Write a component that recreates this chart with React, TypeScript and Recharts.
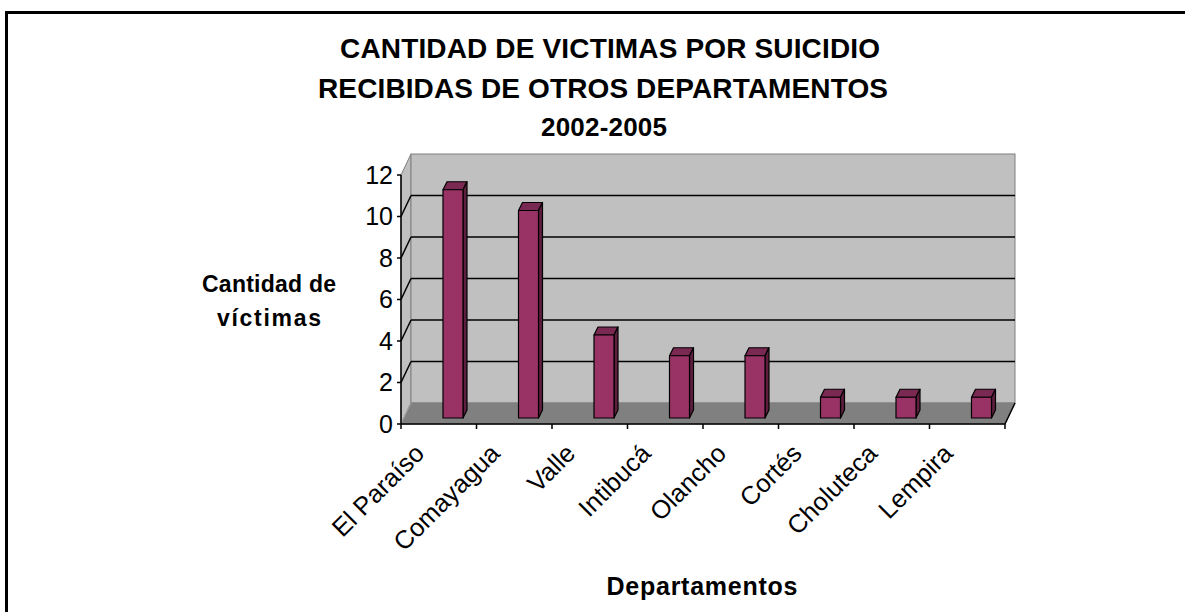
import { Bar, BarChart, CartesianGrid, ReferenceArea, XAxis, YAxis } from "recharts";

const categories = ["El Paraíso", "Comayagua", "Valle", "Intibucá", "Olancho", "Cortés", "Choluteca", "Lempira"];
const victims = [11, 10, 4, 3, 3, 1, 1, 1];
const yTicks = [0, 2, 4, 6, 8, 10, 12];
const gridValues = [2, 4, 6, 8, 10];
const titleLines = ["CANTIDAD DE VICTIMAS POR SUICIDIO", "RECIBIDAS DE OTROS DEPARTAMENTOS", "2002-2005"];
const yLabelLines = ["Cantidad de", "víctimas"];
const xLabel = "Departamentos";

const data = categories.map((name, i) => ({ name, value: victims[i] }));

const FONT = "'Liberation Sans', Arial, sans-serif";
// depth of the 3D box (back wall offset)
const DEPTH = { dx: 10, dy: -21 };
// columns sit a bit behind the front edge
const BAR_SHIFT = { dx: 14, dy: -6 };
const BOX = { dx: 4, dy: -8 };

function Walls(props: any) {
  const { x, y, width, height } = props;
  const { dx, dy } = DEPTH;
  const bottom = y + height;
  const right = x + width;
  return (
    <g>
      <polygon
        points={`${x},${y} ${x + dx},${y + dy} ${x + dx},${bottom + dy} ${x},${bottom}`}
        fill="#c0c0c0"
        stroke="#808080"
      />
      <rect x={x + dx} y={y + dy} width={width} height={height} fill="#c0c0c0" stroke="#808080" />
      <polygon
        points={`${x},${bottom} ${right},${bottom} ${right + dx},${bottom + dy} ${x + dx},${bottom + dy}`}
        fill="#808080"
        stroke="#808080"
      />
      <line x1={x} y1={bottom} x2={x + dx} y2={bottom + dy} stroke="#a0a0a0" />
      <line x1={right} y1={bottom} x2={right + dx} y2={bottom + dy} stroke="#000" strokeWidth={1.5} />
    </g>
  );
}

function GridLine(p: any) {
  const { dx, dy } = DEPTH;
  return (
    <g key={`g-${p.y1}`}>
      <line x1={p.x1 + dx} y1={p.y1 + dy} x2={p.x2 + dx} y2={p.y2 + dy} stroke="#000" strokeWidth={1.5} />
      <line x1={p.x1} y1={p.y1} x2={p.x1 + dx} y2={p.y1 + dy} stroke="#000" strokeWidth={1.5} />
    </g>
  );
}

function Column(props: any) {
  const { x, y, width, height } = props;
  if (!height) return null;
  const fx = x + BAR_SHIFT.dx;
  const fy = y + BAR_SHIFT.dy;
  const { dx, dy } = BOX;
  return (
    <g stroke="#000" strokeWidth={1.2} strokeLinejoin="round">
      <polygon
        points={`${fx},${fy} ${fx + dx},${fy + dy} ${fx + width + dx},${fy + dy} ${fx + width},${fy}`}
        fill="#7a2952"
      />
      <polygon
        points={`${fx + width},${fy} ${fx + width + dx},${fy + dy} ${fx + width + dx},${fy + height + dy} ${fx + width},${fy + height}`}
        fill="#5e1f3f"
      />
      <rect x={fx} y={fy} width={width} height={height} fill="#993366" />
    </g>
  );
}

function CategoryTick(props: any) {
  const { x, y, payload, index } = props;
  const off = payload.offset ?? 0;
  const ax = x - 13;
  const ay = y + 31;
  return (
    <g>
      <line x1={x - off} y1={y} x2={x - off} y2={y + 5} stroke="#000" strokeWidth={1.5} />
      {index === categories.length - 1 && (
        <line x1={x + off} y1={y} x2={x + off} y2={y + 5} stroke="#000" strokeWidth={1.5} />
      )}
      <text
        x={ax}
        y={ay}
        textAnchor="end"
        transform={`rotate(-45, ${ax}, ${ay})`}
        fontSize={25.5}
        fontFamily={FONT}
        fill="#000"
      >
        {payload.value}
      </text>
    </g>
  );
}

export default function App() {
  return (
    <div style={{ position: "absolute", left: 0, top: 0, width: 1185, height: 612, overflow: "hidden", background: "#fff" }}>
      <div
        style={{
          position: "absolute",
          left: 5,
          top: 11,
          width: 1220,
          height: 640,
          border: "3px solid #000",
          boxSizing: "border-box",
        }}
      />
      <div style={{ position: "absolute", left: 0, top: 0 }}>
        <BarChart width={1185} height={612} data={data} margin={{ top: 175, right: 180, bottom: 148, left: 341 }}>
          <ReferenceArea y1={0} y2={12} shape={Walls} zIndex={-200} ifOverflow="visible" />
          <CartesianGrid vertical={false} horizontalValues={gridValues} horizontal={GridLine} zIndex={-150} />
          <XAxis
            dataKey="name"
            height={40}
            interval={0}
            tickSize={0}
            tickMargin={0}
            tickLine={false}
            axisLine={{ stroke: "#000", strokeWidth: 1.5 }}
            tick={CategoryTick}
          />
          <YAxis
            width={60}
            domain={[0, 12]}
            ticks={yTicks}
            interval={0}
            tickSize={4}
            tickMargin={4}
            tickLine={{ stroke: "#000", strokeWidth: 1.5 }}
            axisLine={{ stroke: "#000", strokeWidth: 1.5 }}
            tick={{ fontSize: 25, fill: "#000", fontFamily: FONT }}
          />
          <Bar dataKey="value" barSize={20} fill="#993366" shape={Column} isAnimationActive={false} />
        </BarChart>
      </div>
      <svg width={1185} height={612} style={{ position: "absolute", left: 0, top: 0, pointerEvents: "none" }}>
        <g fontFamily={FONT} fontWeight="bold" fill="#000" textAnchor="middle">
          <text x={610} y={58} fontSize={28} textLength={540} lengthAdjust="spacing">
            {titleLines[0]}
          </text>
          <text x={603} y={98} fontSize={28} textLength={570} lengthAdjust="spacing">
            {titleLines[1]}
          </text>
          <text x={604} y={136} fontSize={26} textLength={126} lengthAdjust="spacing">
            {titleLines[2]}
          </text>
          <text x={269} y={292} fontSize={23} textLength={134} lengthAdjust="spacing">
            {yLabelLines[0]}
          </text>
          <text x={269} y={326} fontSize={23} textLength={104} lengthAdjust="spacing">
            {yLabelLines[1]}
          </text>
          <text x={702} y={595} fontSize={25} textLength={191} lengthAdjust="spacing">
            {xLabel}
          </text>
        </g>
      </svg>
    </div>
  );
}
